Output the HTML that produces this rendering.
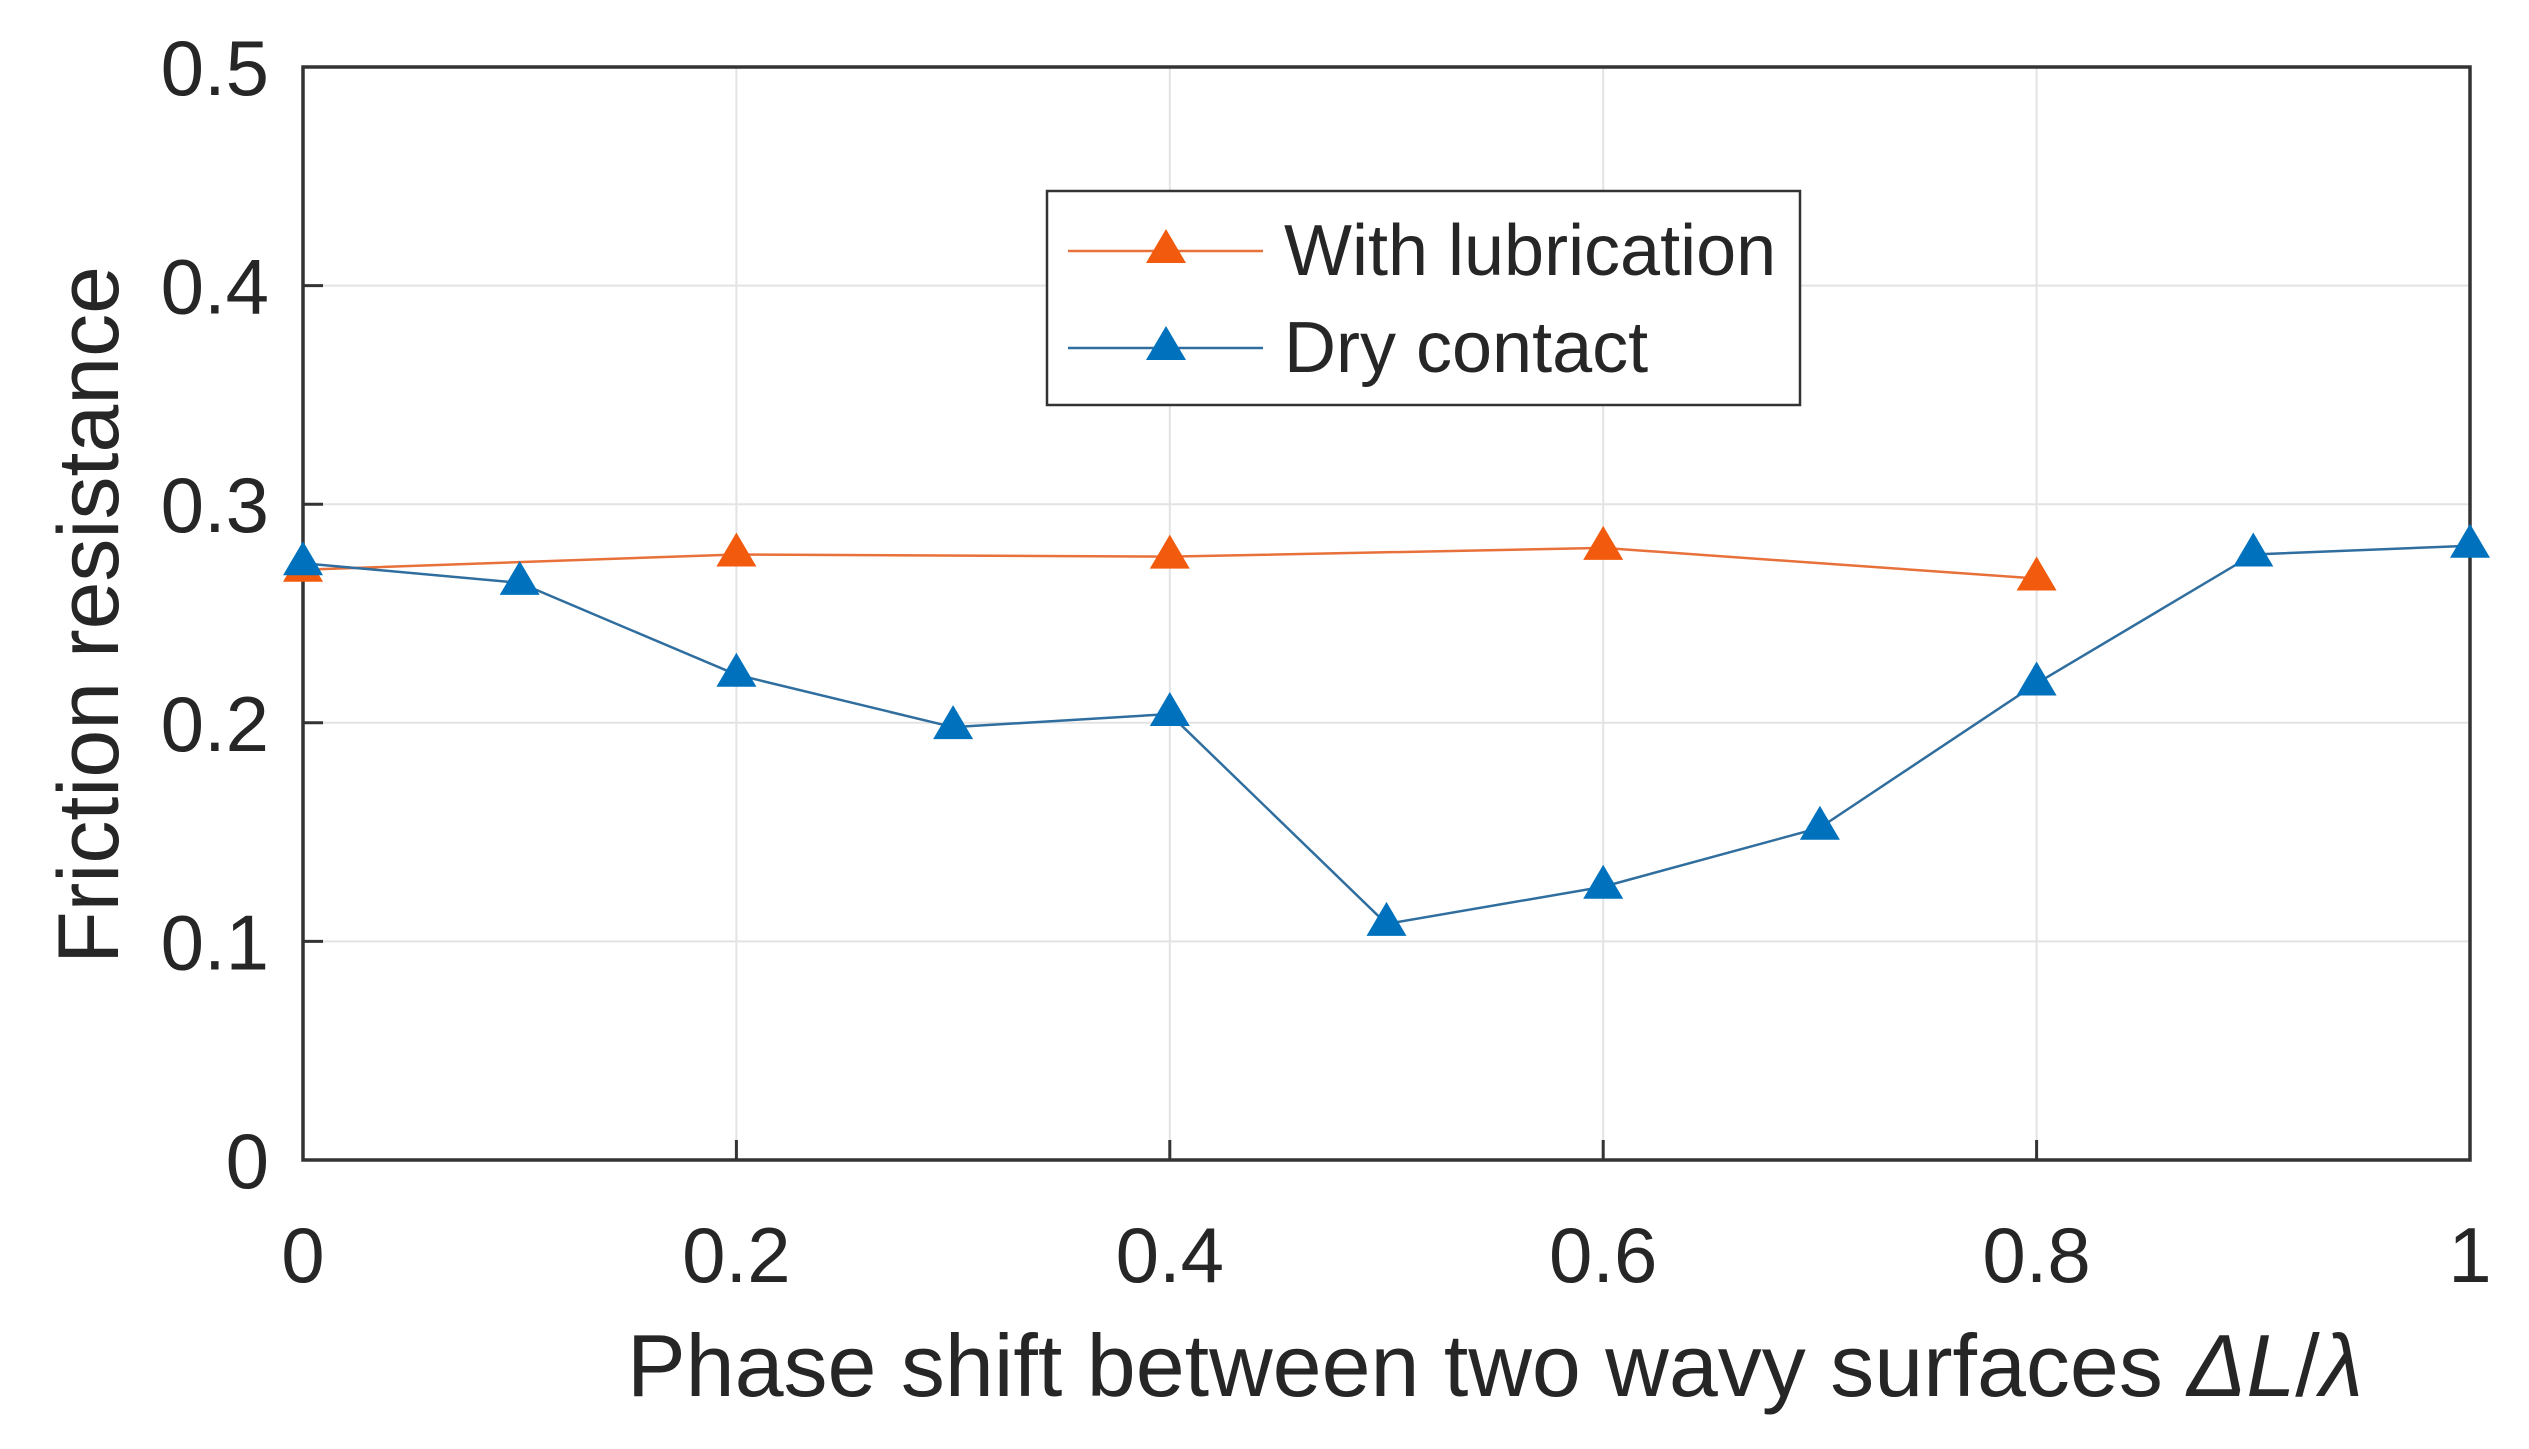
<!DOCTYPE html>
<html><head><meta charset="utf-8"><style>
html,body{margin:0;padding:0;background:#fff}
svg{display:block}
text{font-family:"Liberation Sans",sans-serif;fill:#262626}
</style></head><body>
<svg id="chart" width="2529" height="1449">
<g id="grid"></g>
<g id="axes"></g>
<g id="series"></g>
<text x="89" y="615" font-size="86" text-anchor="middle" dominant-baseline="central" transform="rotate(-90 89 615)">Friction resistance</text>
<text x="1495" y="1396" font-size="88" text-anchor="middle">Phase shift between two wavy surfaces <tspan font-style="italic">ΔL</tspan>/<tspan font-style="italic">λ</tspan></text>
<g>
<rect x="1047" y="191" width="753" height="214" fill="#fff" stroke="#333" stroke-width="2.5"/>
<g>
<line x1="1068" y1="251" x2="1263" y2="251" stroke="#E8703A" stroke-width="2.5"/>
<polygon points="1166,229 1146,263 1186,263" fill="#F25B0E"/>
<text x="1284" y="275" font-size="72">With lubrication</text>
</g>
<g>
<line x1="1068" y1="348" x2="1263" y2="348" stroke="#2F6E9E" stroke-width="2.5"/>
<polygon points="1166,326 1146,360 1186,360" fill="#0072BD"/>
<text x="1284" y="372" font-size="72">Dry contact</text>
</g>
</g>
</svg>
<script>
const xTicks=[0,0.2,0.4,0.6,0.8,1];
const xTickLabels=["0","0.2","0.4","0.6","0.8","1"];
const yTicks=[0,0.1,0.2,0.3,0.4,0.5];
const yTickLabels=["0","0.1","0.2","0.3","0.4","0.5"];
const lubX=[0,0.2,0.4,0.6,0.8];
const lubY=[0.270,0.277,0.276,0.280,0.266];
const dryX=[0,0.1,0.2,0.3,0.4,0.5,0.6,0.7,0.8,0.9,1.0];
const dryY=[0.273,0.264,0.222,0.198,0.204,0.108,0.125,0.152,0.218,0.277,0.281];

const L=303,R=2470,T=67,B=1160;
const sx=v=>L+(R-L)*v;
const sy=v=>B-(B-T)*(v/0.5);
const NS="http://www.w3.org/2000/svg";
function mk(tag,attrs,parent){const e=document.createElementNS(NS,tag);for(const k in attrs)e.setAttribute(k,attrs[k]);parent.appendChild(e);return e;}
const grid=document.getElementById('grid'),axes=document.getElementById('axes'),series=document.getElementById('series');
xTicks.forEach((t,i)=>{
  const g=mk('line',{x1:sx(t),x2:sx(t),y1:T,y2:B,stroke:'#e3e3e3','stroke-width':2},grid);
  
  
  const tk=mk('line',{x1:sx(t),x2:sx(t),y1:B,y2:B-20,stroke:'#333','stroke-width':3},axes);
  
  
  const lb=mk('text',{x:sx(t),y:1282,'font-size':78,'text-anchor':'middle'},axes);
  lb.textContent=xTickLabels[i];
  
  
});
yTicks.forEach((t,i)=>{
  const g=mk('line',{x1:L,x2:R,y1:sy(t),y2:sy(t),stroke:'#e3e3e3','stroke-width':2},grid);
  
  
  const tk=mk('line',{x1:L,x2:L+20,y1:sy(t),y2:sy(t),stroke:'#333','stroke-width':3},axes);
  
  
  const lb=mk('text',{x:269,y:sy(t)+28,'font-size':78,'text-anchor':'end'},axes);
  lb.textContent=yTickLabels[i];
  
  
});
const frame=mk('rect',{x:L,y:T,width:R-L,height:B-T,fill:'none',stroke:'#333','stroke-width':3.5},axes);


function drawSeries(xs,ys,line,fill,name){
  const pl=mk('polyline',{points:xs.map((x,i)=>sx(x)+','+sy(ys[i])).join(' '),fill:'none',stroke:line,'stroke-width':2.5},series);
  
  
  xs.forEach((x,i)=>{
    const cx=sx(x),cy=sy(ys[i]);
    const p=mk('polygon',{points:`${cx},${cy-22} ${cx-20},${cy+12} ${cx+20},${cy+12}`,fill:fill},series);
    
    
  });
}
drawSeries(lubX,lubY,'#E8703A','#F25B0E','lubrication');
drawSeries(dryX,dryY,'#2F6E9E','#0072BD','dry-contact');
</script>
</body></html>
